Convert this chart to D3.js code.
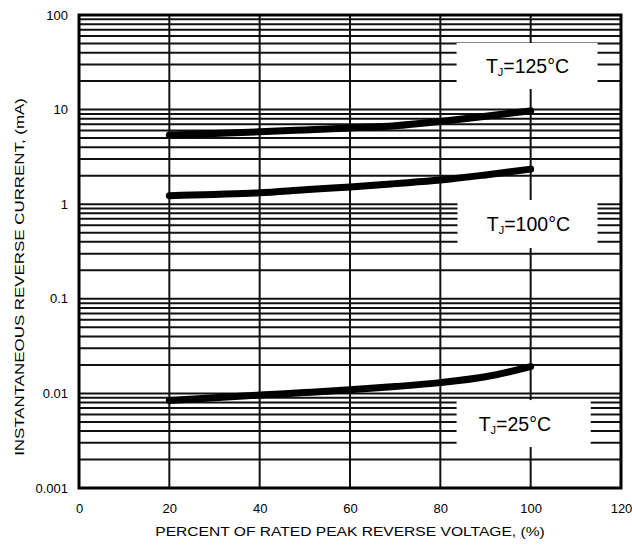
<!DOCTYPE html>
<html>
<head>
<meta charset="utf-8">
<script src="https://cdn.jsdelivr.net/npm/d3@7"></script>
<style>
  body { margin: 0; background: #fff; }
  svg { display: block; font-family: "Liberation Sans", Arial, sans-serif; }
</style>
</head>
<body>
<svg id="chart" width="632" height="545"></svg>
<script>
// values
const xTicks = [0, 20, 40, 60, 80, 100, 120];
const yTicks = [0.001, 0.01, 0.1, 1, 10, 100];
const yTickLabels = ["0.001", "0.01", "0.1", "1", "10", "100"];

const voltagePct = [20, 30, 40, 50, 60, 70, 80, 90, 100];
const current125 = [5.39, 5.6, 5.83, 6.1, 6.4, 6.75, 7.5, 8.5, 9.7];
const current100 = [1.23, 1.27, 1.32, 1.42, 1.52, 1.65, 1.8, 2.04, 2.35];
const current25 = [0.0084, 0.009, 0.0096, 0.0102, 0.0109, 0.0118, 0.013, 0.015, 0.0192];

const seriesValues = [current125, current100, current25];

// label boxes (data space): x range and current range
const labelBoxes = [
    {temp: "125", x0: 83.6, x1: 114.8, yTop: 50.6, yBot: 16.5, tx: 99.3},
    {temp: "100", x0: 83.8, x1: 114.8, yTop: 1.107, yBot: 0.344, tx: 99.5},
    {temp: "25", x0: 83.6, x1: 113.3, yTop: 0.0085, yBot: 0.00271, tx: 96.5}
];

let margin = {left: 79, top: 15, right: 11, bottom: 57};
let width = 632 - margin.left - margin.right;
let height = 545 - margin.top - margin.bottom;

let svg = d3.select("#chart");
let g = svg.append("g").attr("transform", "translate(" + margin.left + "," + margin.top + ")");

let xScale = d3.scaleLinear().domain([0, 120]).range([0, width]);
let yScale = d3.scaleLog().domain([0.001, 100]).range([height, 0]);

// horizontal grid: every minor value of each decade
let minorVals = [];
for (let i = 0; i < yTicks.length - 1; i++) {
    for (let m = 1; m < 10; m++) minorVals.push(yTicks[i] * m);
}
minorVals.push(100);

g.append("g")
    .selectAll("line")
    .data(minorVals)
    .enter()
    .append("line")
    .attr("x1", 0)
    .attr("x2", width)
    .attr("y1", d => yScale(d))
    .attr("y2", d => yScale(d))
    .attr("stroke", "#111")
    .attr("stroke-width", 2);

g.append("g")
    .selectAll("line")
    .data(xTicks.slice(1, -1))
    .enter()
    .append("line")
    .attr("x1", d => xScale(d))
    .attr("x2", d => xScale(d))
    .attr("y1", 0)
    .attr("y2", height)
    .attr("stroke", "#111")
    .attr("stroke-width", 2);

// white boxes behind temperature labels
g.append("g")
    .selectAll("rect")
    .data(labelBoxes)
    .enter()
    .append("rect")
    .attr("x", d => xScale(d.x0))
    .attr("width", d => xScale(d.x1) - xScale(d.x0))
    .attr("y", d => yScale(d.yTop))
    .attr("height", d => yScale(d.yBot) - yScale(d.yTop))
    .attr("fill", "#fff");

// frame
g.append("rect")
    .attr("width", width)
    .attr("height", height)
    .attr("fill", "none")
    .attr("stroke", "#000")
    .attr("stroke-width", 3);

// axes (labels only)
let xAxis = g.append("g")
    .attr("transform", "translate(0," + height + ")")
    .call(d3.axisBottom(xScale).tickValues(xTicks).tickSize(0).tickPadding(16));
xAxis.select(".domain").remove();
xAxis.selectAll("text").attr("font-size", 13).attr("fill", "#000")
    .attr("font-family", "Liberation Sans, Arial, sans-serif");

let yAxis = g.append("g")
    .call(d3.axisLeft(yScale).tickValues(yTicks).tickFormat((d, i) => yTickLabels[i]).tickSize(0).tickPadding(11));
yAxis.select(".domain").remove();
yAxis.selectAll("text").attr("font-size", 13).attr("fill", "#000")
    .attr("font-family", "Liberation Sans, Arial, sans-serif");

// curves
let line = d3.line()
    .x(d => xScale(d[0]))
    .y(d => yScale(d[1]))
    .curve(d3.curveMonotoneX);

g.append("g")
    .selectAll("path")
    .data(seriesValues)
    .enter()
    .append("path")
    .attr("d", vals => line(voltagePct.map((v, i) => [v, vals[i]])))
    .attr("fill", "none")
    .attr("stroke", "#000")
    .attr("stroke-width", 7)
    .attr("stroke-linecap", "round");

// temperature labels
let labels = g.append("g")
    .selectAll("text")
    .data(labelBoxes)
    .enter()
    .append("text")
    .attr("x", d => xScale(d.tx))
    .attr("y", d => (yScale(d.yTop) + yScale(d.yBot)) / 2 + 7)
    .attr("text-anchor", "middle")
    .attr("font-size", 19.5)
    .attr("fill", "#000");
labels.append("tspan").text("T");
labels.append("tspan").attr("font-size", 11).attr("dy", 3).text("J");
labels.append("tspan").attr("dy", -3).text(d => "=" + d.temp + "°C");

// axis titles (reference type is wider than Arial, so stretch horizontally)
svg.append("text")
    .attr("transform", "translate(350,536) scale(1.2,1)")
    .attr("text-anchor", "middle")
    .attr("font-size", 13)
    .text("PERCENT OF RATED PEAK REVERSE VOLTAGE, (%)");

svg.append("text")
    .attr("transform", "translate(24,277) rotate(-90) scale(1.3,1)")
    .attr("text-anchor", "middle")
    .attr("font-size", 13)
    .text("INSTANTANEOUS REVERSE CURRENT, (mA)");
</script>
</body>
</html>
